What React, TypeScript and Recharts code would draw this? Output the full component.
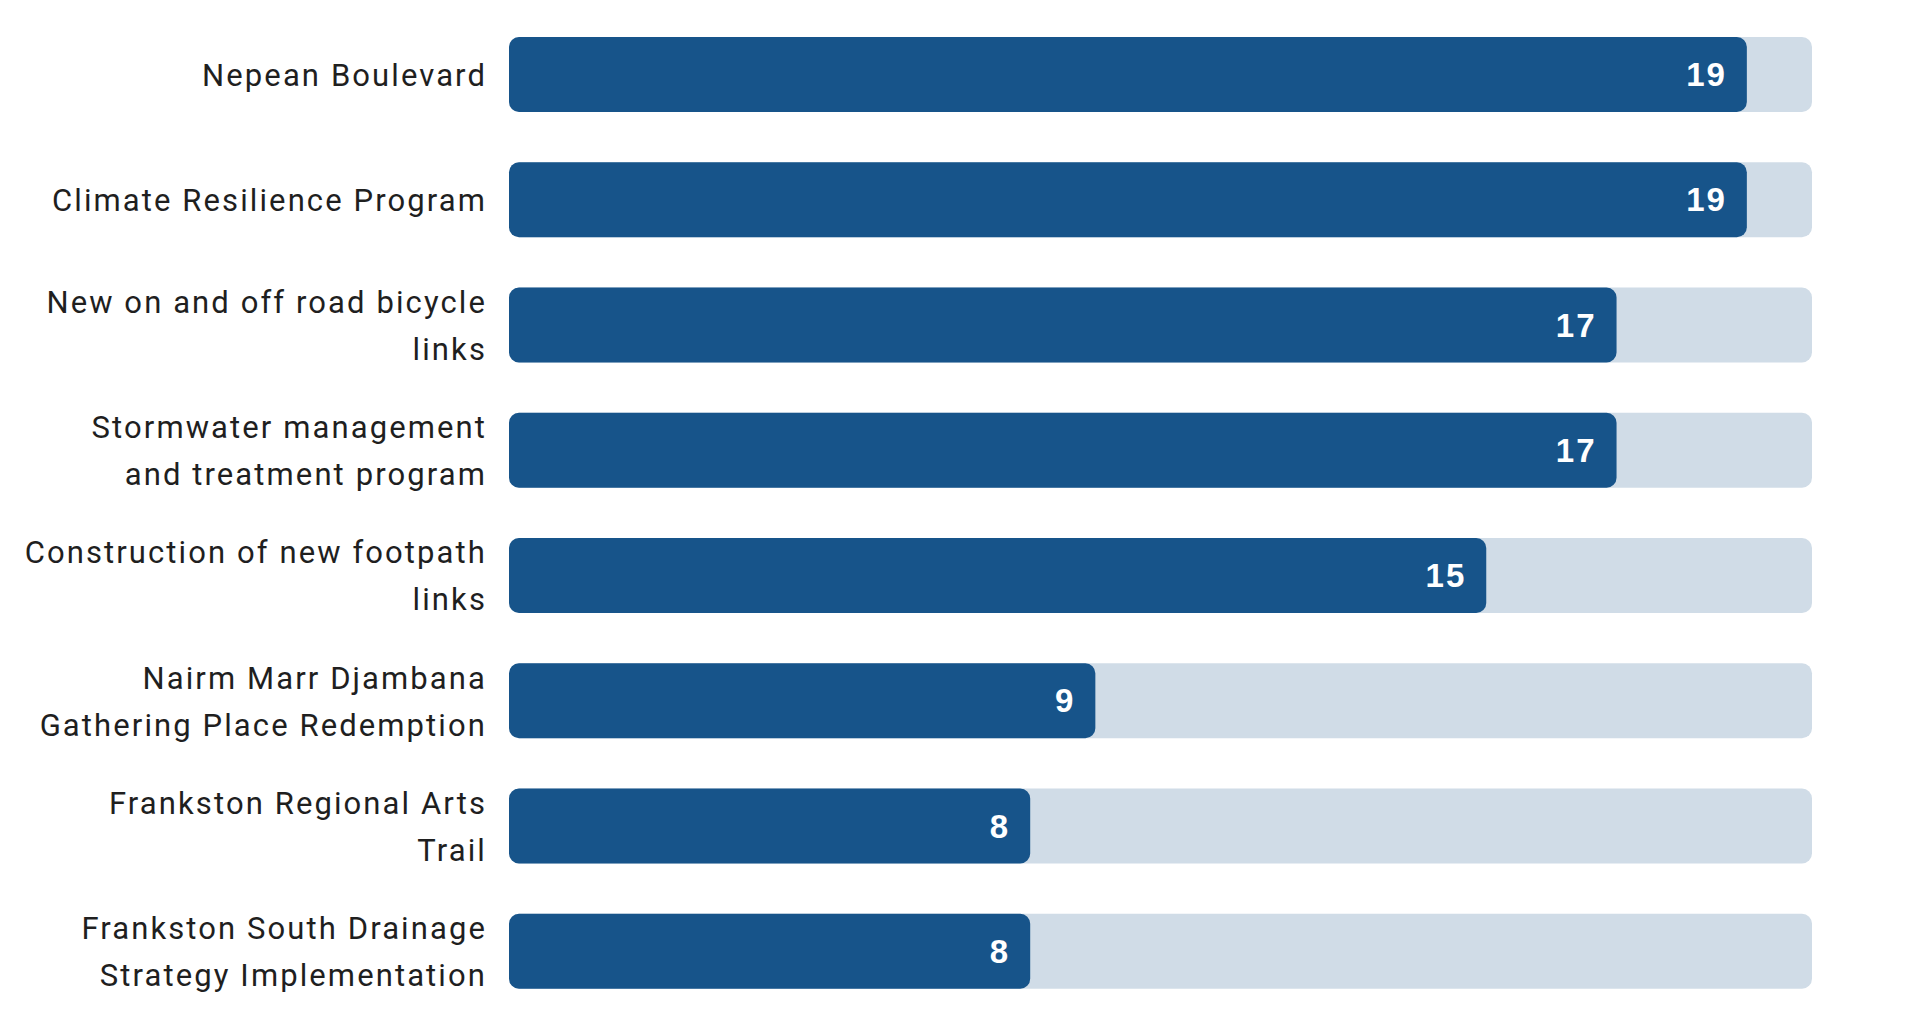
import React from 'react';
import { BarChart, Bar, XAxis, YAxis, LabelList } from 'recharts';

// project names (line breaks as in the original labels)
const projects = [
  'Nepean Boulevard',
  'Climate Resilience Program',
  'New on and off road bicycle\nlinks',
  'Stormwater management\nand treatment program',
  'Construction of new footpath\nlinks',
  'Nairm Marr Djambana\nGathering Place Redemption',
  'Frankston Regional Arts\nTrail',
  'Frankston South Drainage\nStrategy Implementation',
];
const counts = [19, 19, 17, 17, 15, 9, 8, 8];
const axisMax = 20;

const data = projects.map((name, i) => ({ name, value: counts[i] }));

const BAR_COLOR = '#17548a';
const TRACK_COLOR = '#d0dce7';

function ProjectTick({ x, y, payload }: any) {
  const lines = String(payload.value).split('\n');
  const lh = 47;
  const start = y - ((lines.length - 1) * lh) / 2;
  return (
    <text
      x={x}
      y={start}
      textAnchor="end"
      fill="#1f1f1f"
      fontFamily="Roboto, 'Open Sans', sans-serif"
      fontSize={31}
      letterSpacing={2.1}
    >
      {lines.map((l, i) => (
        <tspan key={i} x={x} y={start + i * lh} dy="0.36em">
          {l}
        </tspan>
      ))}
    </text>
  );
}

function Track(p: any) {
  return <rect key={`bg-${p.index}`} x={p.x} y={p.y} width={p.width} height={p.height} rx={10} ry={10} fill={TRACK_COLOR} />;
}

export default function App() {
  return (
    <div style={{ position: 'absolute', left: 0, top: 0, width: 1920, height: 1035, background: '#fff' }}>
      <BarChart
        width={1920}
        height={1035}
        data={data}
        layout="vertical"
        margin={{ top: 12, right: 108, bottom: 21, left: 0 }}
      >
        <XAxis type="number" domain={[0, axisMax]} hide />
        <YAxis
          type="category"
          dataKey="name"
          width={509}
          axisLine={false}
          tickLine={false}
          tickSize={0}
          tickMargin={22}
          tick={<ProjectTick />}
          interval={0}
        />
        <Bar
          dataKey="value"
          fill={BAR_COLOR}
          barSize={75}
          radius={10}
          background={Track}
          isAnimationActive={false}
        >
          <LabelList
            dataKey="value"
            position="insideRight"
            offset={20}
            fill="#fff"
            fontFamily="'Liberation Sans', Arial, sans-serif"
            fontWeight="bold"
            fontSize={33}
            letterSpacing={2}
          />
        </Bar>
      </BarChart>
    </div>
  );
}
